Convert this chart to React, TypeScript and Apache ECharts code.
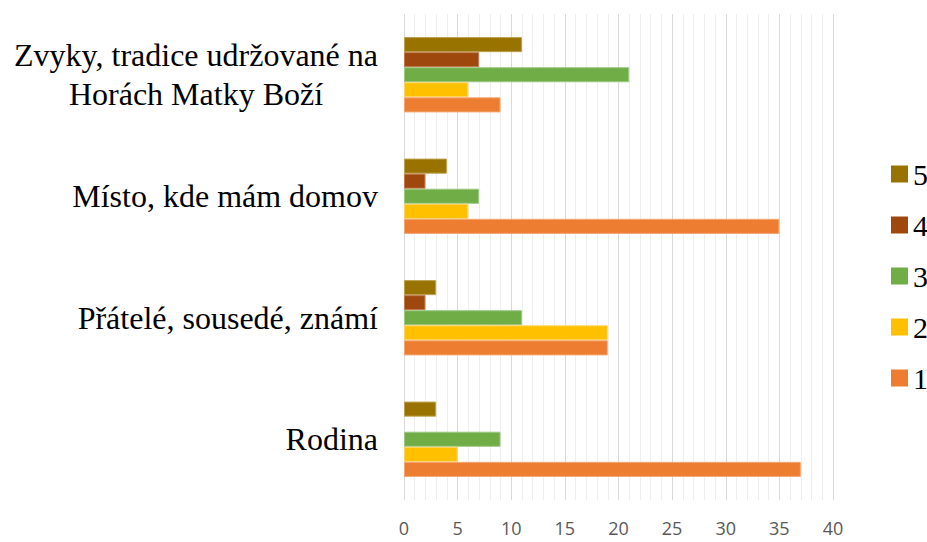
import React, { useEffect, useRef } from "react";
import * as echarts from "echarts";

const categories = [
  "Rodina",
  "Přátelé, sousedé, známí",
  "Místo, kde mám domov",
  "Zvyky, tradice udržované na\nHorách Matky Boží",
];
const seriesNames = ["1", "2", "3", "4", "5"];
const s1 = [37, 19, 35, 9];
const s2 = [5, 19, 6, 6];
const s3 = [9, 11, 7, 21];
const s4 = [0, 2, 2, 7];
const s5 = [3, 3, 4, 11];
const seriesValues = [s1, s2, s3, s4, s5];
const colors = ["#ED7D31", "#FFC000", "#70AD47", "#9E480E", "#997300"];
const borderColors = ["#F4A672", "#FFD666", "#9CC883", "#C07A4E", "#BCA04D"];

const SERIF = "Liberation Serif";

export default function App() {
  const ref = useRef<HTMLDivElement>(null);
  useEffect(() => {
    if (!ref.current) return;
    const chart = echarts.init(ref.current, undefined, { renderer: "svg" });
    const order = [4, 3, 2, 1, 0];
    chart.setOption({
      animation: false,
      backgroundColor: "#ffffff",
      grid: { left: 404, right: 94, top: 14, bottom: 42, containLabel: false },
      legend: {
        orient: "vertical",
        left: 886,
        top: 154,
        itemWidth: 17,
        itemHeight: 17,
        itemGap: 21,
        itemStyle: { borderWidth: 0 },
        icon: "rect",
        data: ["5", "4", "3", "2", "1"],
        formatter: "{a|{name}}",
        textStyle: {
          fontFamily: SERIF,
          fontSize: 30,
          color: "#000000",
          rich: {
            a: {
              fontFamily: SERIF,
              fontSize: 30,
              lineHeight: 30,
              color: "#000000",
            },
          },
        },
      },
      xAxis: {
        type: "value",
        min: 0,
        max: 40,
        interval: 5,
        axisLine: { show: false },
        axisTick: { show: false },
        axisLabel: {
          margin: 19,
          color: "#595959",
          fontFamily: "Open Sans",
          fontSize: 18,
        },
        splitLine: { show: true, lineStyle: { color: "#d9d9d9", width: 1 } },
        minorTick: { show: false, splitNumber: 5 },
        minorSplitLine: { show: true, lineStyle: { color: "#eeeeee", width: 1 } },
      },
      yAxis: {
        type: "category",
        data: categories,
        axisLine: { show: false },
        axisTick: { show: false },
        axisLabel: {
          margin: 26,
          formatter: (v: string) =>
            v
              .split("\n")
              .map((l) => "{a|" + l + "}")
              .join("\n"),
          rich: {
            a: {
              fontFamily: SERIF,
              fontSize: 32,
              lineHeight: 39,
              color: "#000000",
              align: "center",
            },
          },
        },
      },
      series: order.map((i) => ({
        name: seriesNames[i],
        type: "bar",
        data: seriesValues[i].map((v) =>
          v === 0 ? { value: v, itemStyle: { borderWidth: 0 } } : v
        ),
        barGap: "0%",
        barCategoryGap: "38%",
        itemStyle: {
          color: colors[i],
          borderColor: borderColors[i],
          borderWidth: 1,
        },
      })),
    });
    return () => chart.dispose();
  }, []);
  return (
    <div
      ref={ref}
      style={{ position: "fixed", left: 0, top: 0, width: 927, height: 542 }}
    />
  );
}
